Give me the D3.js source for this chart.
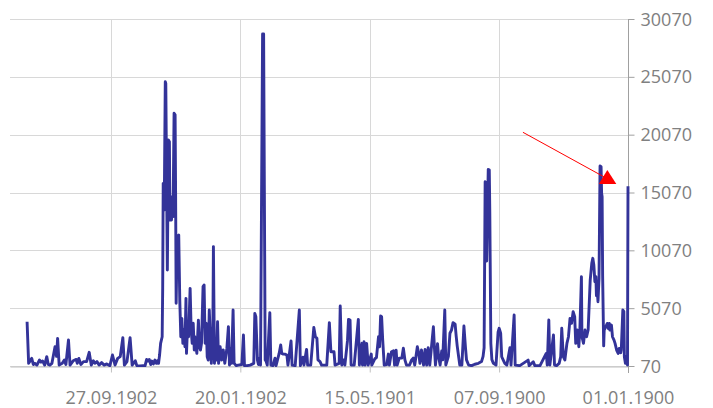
<!DOCTYPE html>
<html><head><meta charset="utf-8">
<script src="https://cdn.jsdelivr.net/npm/d3@7"></script>
<style>html,body{margin:0;padding:0;background:#fff;}svg{display:block;font-family:"Open Sans",sans-serif;}</style>
</head><body><svg id="chart" width="713" height="408"></svg>
<script>
const dates = [
"08.03.1903","05.03.1903","27.02.1903","24.02.1903","21.02.1903","17.02.1903","12.02.1903","09.02.1903","06.02.1903","02.02.1903",
"29.01.1903","26.01.1903","23.01.1903","19.01.1903","13.01.1903","10.01.1903","08.01.1903","05.01.1903","30.12.1902","26.12.1902",
"23.12.1902","18.12.1902","15.12.1902","09.12.1902","03.12.1902","01.12.1902","28.11.1902","24.11.1902","19.11.1902","13.11.1902",
"08.11.1902","04.11.1902","31.10.1902","28.10.1902","24.10.1902","20.10.1902","15.10.1902","10.10.1902","05.10.1902","29.09.1902",
"24.09.1902","19.09.1902","14.09.1902","09.09.1902","04.09.1902","01.09.1902","27.08.1902","21.08.1902","17.08.1902","11.08.1902",
"08.08.1902","02.08.1902","27.07.1902","23.07.1902","20.07.1902","17.07.1902","15.07.1902","12.07.1902","10.07.1902","07.07.1902",
"04.07.1902","01.07.1902","29.06.1902","27.06.1902","25.06.1902","23.06.1902","20.06.1902","19.06.1902","18.06.1902","16.06.1902",
"14.06.1902","13.06.1902","11.06.1902","10.06.1902","08.06.1902","06.06.1902","05.06.1902","03.06.1902","02.06.1902","31.05.1902",
"30.05.1902","28.05.1902","26.05.1902","25.05.1902","24.05.1902","22.05.1902","19.05.1902","17.05.1902","15.05.1902","13.05.1902",
"11.05.1902","09.05.1902","07.05.1902","05.05.1902","04.05.1902","02.05.1902","30.04.1902","27.04.1902","25.04.1902","23.04.1902",
"21.04.1902","19.04.1902","18.04.1902","14.04.1902","11.04.1902","09.04.1902","07.04.1902","05.04.1902","02.04.1902","31.03.1902",
"29.03.1902","27.03.1902","25.03.1902","23.03.1902","21.03.1902","19.03.1902","17.03.1902","14.03.1902","13.03.1902","11.03.1902",
"09.03.1902","07.03.1902","05.03.1902","03.03.1902","28.02.1902","25.02.1902","22.02.1902","19.02.1902","15.02.1902","12.02.1902",
"10.02.1902","08.02.1902","06.02.1902","03.02.1902","01.02.1902","28.01.1902","24.01.1902","17.01.1902","14.01.1902","12.01.1902",
"07.01.1902","01.01.1902","25.12.1901","23.12.1901","21.12.1901","19.12.1901","18.12.1901","16.12.1901","14.12.1901","12.12.1901",
"08.12.1901","06.12.1901","03.12.1901","01.12.1901","29.11.1901","24.11.1901","22.11.1901","18.11.1901","14.11.1901","12.11.1901",
"06.11.1901","03.11.1901","01.11.1901","29.10.1901","26.10.1901","22.10.1901","20.10.1901","14.10.1901","12.10.1901","06.10.1901",
"28.09.1901","26.09.1901","21.09.1901","19.09.1901","14.09.1901","12.09.1901","06.09.1901","31.08.1901","28.08.1901","25.08.1901",
"23.08.1901","19.08.1901","16.08.1901","06.08.1901","01.08.1901","29.07.1901","25.07.1901","23.07.1901","21.07.1901","13.07.1901",
"11.07.1901","08.07.1901","05.07.1901","02.07.1901","27.06.1901","25.06.1901","22.06.1901","20.06.1901","14.06.1901","06.06.1901",
"04.06.1901","30.05.1901","29.05.1901","26.05.1901","24.05.1901","21.05.1901","18.05.1901","12.05.1901","11.05.1901","05.05.1901",
"02.05.1901","28.04.1901","26.04.1901","24.04.1901","22.04.1901","20.04.1901","17.04.1901","12.04.1901","09.04.1901","07.04.1901",
"03.04.1901","30.03.1901","28.03.1901","25.03.1901","23.03.1901","19.03.1901","14.03.1901","11.03.1901","08.03.1901","05.03.1901",
"27.02.1901","23.02.1901","20.02.1901","17.02.1901","12.02.1901","09.02.1901","07.02.1901","04.02.1901","31.01.1901","28.01.1901",
"25.01.1901","22.01.1901","19.01.1901","12.01.1901","10.01.1901","08.01.1901","04.01.1901","02.01.1901","30.12.1900","27.12.1900",
"25.12.1900","21.12.1900","19.12.1900","14.12.1900","11.12.1900","08.12.1900","05.12.1900","01.12.1900","29.11.1900","27.11.1900",
"24.11.1900","22.11.1900","18.11.1900","14.11.1900","11.11.1900","09.11.1900","05.11.1900","30.10.1900","24.10.1900","17.10.1900",
"11.10.1900","08.10.1900","06.10.1900","04.10.1900","02.10.1900","01.10.1900","29.09.1900","28.09.1900","26.09.1900","25.09.1900",
"23.09.1900","21.09.1900","18.09.1900","13.09.1900","09.09.1900","07.09.1900","04.09.1900","02.09.1900","30.08.1900","27.08.1900",
"23.08.1900","17.08.1900","15.08.1900","09.08.1900","07.08.1900","29.07.1900","13.07.1900","11.07.1900","03.07.1900","30.06.1900",
"20.06.1900","08.06.1900","06.06.1900","03.06.1900","01.06.1900","25.05.1900","23.05.1900","19.05.1900","14.05.1900","11.05.1900",
"09.05.1900","06.05.1900","03.05.1900","29.04.1900","26.04.1900","23.04.1900","20.04.1900","17.04.1900","14.04.1900","12.04.1900",
"09.04.1900","06.04.1900","04.04.1900","01.04.1900","31.03.1900","28.03.1900","25.03.1900","22.03.1900","19.03.1900","15.03.1900",
"12.03.1900","10.03.1900","08.03.1900","06.03.1900","04.03.1900","03.03.1900","02.03.1900","28.02.1900","26.02.1900","24.02.1900",
"22.02.1900","21.02.1900","20.02.1900","19.02.1900","17.02.1900","16.02.1900","13.02.1900","10.02.1900","08.02.1900","06.02.1900",
"05.02.1900","02.02.1900","31.01.1900","28.01.1900","26.01.1900","23.01.1900","20.01.1900","18.01.1900","15.01.1900","14.01.1900",
"11.01.1900","09.01.1900","08.01.1900","06.01.1900","05.01.1900","02.01.1900","01.01.1900"
];
const values = [
3900,300,730,200,300,150,590,400,500,150,
880,200,150,300,1740,900,2460,150,300,590,
200,2320,150,520,640,300,720,200,450,450,
1250,150,520,300,450,150,360,150,250,100,
1020,150,730,880,2520,150,450,2520,150,520,
100,80,90,100,640,500,640,200,500,250,
590,300,520,300,1020,2030,2600,6780,15860,13560,
24650,24500,13560,8370,19610,19460,12690,14710,12690,14710,
12980,21920,21780,14710,5490,11250,11390,5780,2600,4190,
2030,3180,1740,5920,1160,3470,2600,6780,3180,2030,
3760,1450,2600,1160,4040,1740,1450,2030,6930,7070,
2030,3760,870,580,4910,2600,300,3470,10390,300,
1740,580,3900,300,1740,580,1450,300,1590,3470,
150,1590,300,4910,300,100,150,200,2750,100,
100,150,300,4620,4330,1880,600,200,750,150,
28770,28770,600,450,150,4680,150,100,750,100,
1160,1890,1160,1100,1100,1020,150,2230,150,100,
4910,100,830,150,1510,150,150,3410,2600,2460,
600,450,150,150,3820,1300,1300,1300,150,300,
5260,150,600,150,2240,4100,4040,150,150,4100,
150,2030,150,2170,150,2030,150,1100,150,700,
800,2600,1730,4390,4330,2370,150,200,1100,150,
1300,1380,150,1440,150,750,750,1600,600,150,
150,600,750,150,1740,1100,300,1450,150,1510,
150,1660,150,3460,1660,150,2000,900,150,1360,
600,4910,150,900,2900,3170,3820,3680,2680,1810,
800,150,150,3530,1660,600,150,100,220,300,
450,900,1650,16000,15860,9150,14500,17070,17010,13350,
2030,620,300,150,3000,3330,2900,870,580,300,
150,1660,150,4480,150,100,580,100,440,100,
100,1160,150,4050,150,2750,150,100,300,880,
3330,880,590,2030,2600,4190,3760,4770,4340,2030,
3180,1740,3180,7790,2600,2030,3180,2600,3180,7500,
8950,9380,8800,7360,7790,6140,7070,5630,7650,17360,
17300,15000,14710,7860,1810,3180,3460,3750,3320,3750,
3170,3610,2600,2310,2030,1450,1160,1590,1220,1450,
4910,4770,870,300,870,150,15600
];
const xTickLabels = ["27.09.1902","20.01.1902","15.05.1901","07.09.1900","01.01.1900"];
const yTickValues = [70,5070,10070,15070,20070,25070,30070];
const xDomainLabels = ["10.04.1903","01.01.1900"];
const annotationFrom = ["23.07.1900", 20276];
const annotationTo = ["09.02.1900", 16240];

const parse = d3.utcParse("%d.%m.%Y");
const fmt = d3.utcFormat("%d.%m.%Y");
const L = 10, R = 628, T = 19, B = 366;
const x = d3.scaleUtc().domain(xDomainLabels.map(parse)).range([L, R]);
const y = d3.scaleLinear().domain([70, 30070]).range([B, T]);
const svg = d3.select("#chart");
const textCol = "#808080";

// grid
const grid = svg.append("g").attr("shape-rendering","crispEdges");
grid.selectAll("line.h").data(yTickValues).join("line")
  .attr("x1", L).attr("x2", R).attr("y1", d => Math.round(y(d))+0.5).attr("y2", d => Math.round(y(d))+0.5)
  .attr("stroke", "#d8d8d8").attr("stroke-width", 1);
grid.selectAll("line.v").data(xTickLabels.map(parse)).join("line")
  .attr("y1", T).attr("y2", B).attr("x1", d => Math.round(x(d))+0.5).attr("x2", d => Math.round(x(d))+0.5)
  .attr("stroke", "#d8d8d8").attr("stroke-width", 1);

// x axis
const xa = svg.append("g").attr("transform", `translate(0,${B+0.5})`)
  .call(d3.axisBottom(x).tickValues(xTickLabels.map(parse)).tickFormat(fmt).tickSize(6).tickSizeOuter(0));
xa.select(".domain").attr("stroke", "#c0c0c0");
xa.selectAll(".tick line").attr("stroke", "#c0c0c0");
xa.selectAll("text").attr("y", 37).attr("dy", 0).attr("fill", textCol).attr("font-size", 18).attr("font-family", "'Open Sans',sans-serif");

// y axis
const ya = svg.append("g").attr("transform", `translate(${R+0.5},0)`)
  .call(d3.axisRight(y).tickValues(yTickValues).tickFormat(d3.format("d")).tickSize(6).tickPadding(6).tickSizeOuter(0));
ya.select(".domain").attr("stroke", "#a0a0a0").attr("d", `M0,${T}V${B+7}`);
ya.selectAll(".tick line").attr("stroke", "#a0a0a0");
ya.selectAll("text").attr("fill", textCol).attr("font-size", 18).attr("font-family", "'Open Sans',sans-serif").attr("dy", "0.34em");

// line
svg.append("defs").append("clipPath").attr("id","clip").append("rect")
  .attr("x", L).attr("y", T - 5).attr("width", R - L + 2).attr("height", B - T + 6);
const data = dates.map((d, i) => ({date: parse(d), value: values[i]}));
svg.append("path").datum(data)
  .attr("clip-path","url(#clip)")
  .attr("fill","none").attr("stroke","#333399").attr("stroke-width",2.9).attr("stroke-linejoin","round")
  .attr("d", d3.line().x(d => x(d.date)).y(d => y(d.value)));

// annotation
const ax1 = x(parse(annotationFrom[0])), ay1 = y(annotationFrom[1]);
const ax2 = x(parse(annotationTo[0])), ay2 = y(annotationTo[1]);
svg.append("line").attr("x1", ax1).attr("y1", ay1).attr("x2", ax2).attr("y2", ay2)
  .attr("stroke", "#ff0000").attr("stroke-width", 1);
svg.append("path").attr("transform", `translate(${ax2},${ay2})`)
  .attr("d", "M-0.5,-9L8.5,5L-9,5Z").attr("fill", "#ff0000");
</script></body></html>
